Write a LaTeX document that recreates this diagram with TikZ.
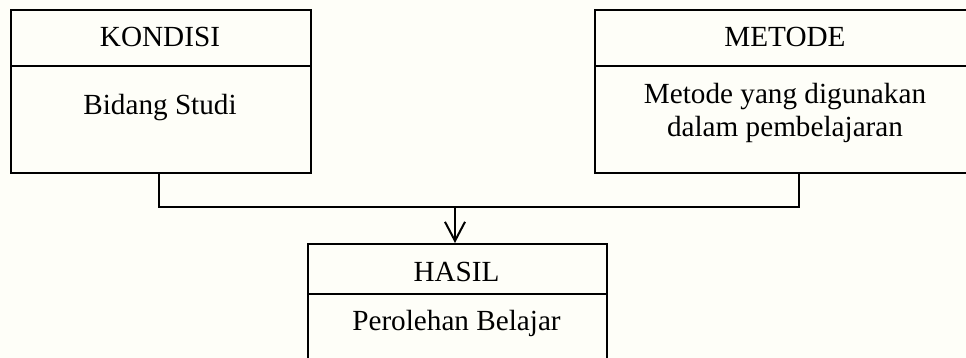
\documentclass[tikz,border=0pt]{standalone}
\usepackage{fontspec}
\setmainfont{Liberation Serif}
\usetikzlibrary{arrows.meta}
\definecolor{bgcream}{RGB}{254,254,248}
\tikzset{
  box/.style={draw=black, line width=1pt, rectangle, inner sep=0pt, anchor=north west},
  lbl/.style={font=\fontsize{14.6}{16.2}\selectfont, align=center, inner sep=0pt},
  conn/.style={draw=black, line width=1pt},
  arr/.style={conn, -{Straight Barb[length=9.5pt, width=10pt, line width=1pt]}}
}
\begin{document}
\begin{tikzpicture}[x=0.5pt, y=-0.5pt]
  \useasboundingbox (0,0) rectangle (966,358);
  \clip (0,0) rectangle (966,358);
  \fill[bgcream] (0,0) rectangle (966,358);
  % KONDISI
  \node[box, minimum width=150pt, minimum height=28pt] (konh) at (10,9) {};
  \node[box, minimum width=150pt, minimum height=53.5pt] (konb) at (10,65) {};
  \node[lbl] (kont) at (160,37) {KONDISI};
  \node[lbl] (konx) at (160,108) {Bidang Studi};
  % METODE
  \node[box, minimum width=200pt, minimum height=28pt] (meth) at (594,9) {};
  \node[box, minimum width=200pt, minimum height=53.5pt] (metb) at (594,65) {};
  \node[lbl] (mett) at (785,37) {METODE};
  \node[lbl] (metx) at (785,113) {Metode yang digunakan\\dalam pembelajaran};
  % HASIL
  \node[box, minimum width=149.5pt, minimum height=25pt] (hash) at (307,243) {};
  \node[box, minimum width=149.5pt, minimum height=45pt] (hasb) at (307,293) {};
  \node[lbl] (hast) at (456.5,272) {HASIL};
  \node[lbl] (hasx) at (456.5,323) {Perolehan Belajar};
  % connectors
  \coordinate (jn) at (455,207);
  \draw[conn] ([xshift=-1pt]konb.south) |- (jn) -| ([xshift=2pt]metb.south);
  \draw[arr] (jn) -- (jn |- hash.north);
\end{tikzpicture}
\end{document}
